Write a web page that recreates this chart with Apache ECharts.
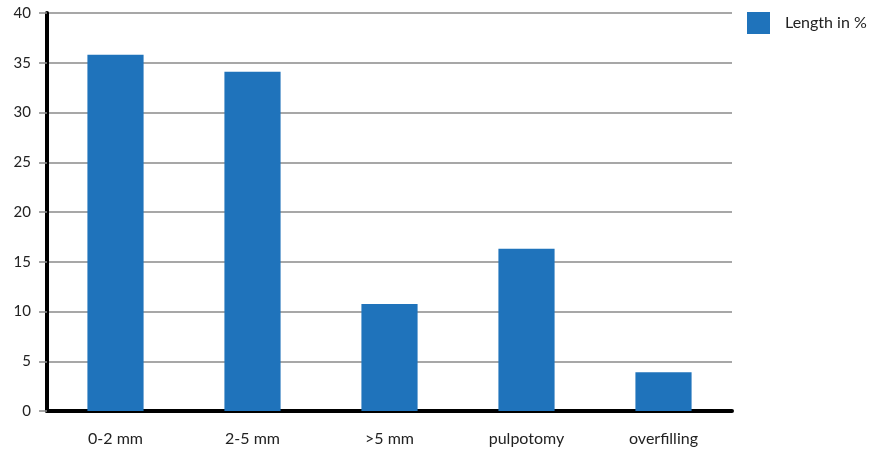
<!DOCTYPE html>
<html><head><meta charset="utf-8">
<script src="https://cdn.jsdelivr.net/npm/echarts@6/dist/echarts.min.js"></script>
<style>html,body{margin:0;padding:0;background:#fff}#c{width:876px;height:457px}</style>
</head><body><div id="c"></div>
<script>
const categories = ['0-2 mm', '2-5 mm', '>5 mm', 'pulpotomy', 'overfilling'];
const lengthValues = [35.8, 34.1, 10.75, 16.3, 3.9];
const seriesName = 'Length in %';
const yMin = 0, yMax = 40, yInterval = 5;

const chart = echarts.init(document.getElementById('c'));
const font = 'Lato, "DejaVu Sans", sans-serif';
chart.setOption({
  animation: false,
  grid: { left: 47, right: 144, top: 13, bottom: 46 },
  legend: {
    data: [seriesName], left: 747, top: 12, itemWidth: 23, itemHeight: 22, itemGap: 10,
    icon: 'rect', padding: 0,
    textStyle: { fontFamily: font, fontSize: 16, color: '#222', padding: [0,0,0,10] }
  },
  xAxis: {
    type: 'category', data: categories,
    axisLine: { lineStyle: { color: '#000', width: 4 } },
    axisTick: { show: false },
    axisLabel: { margin: 20, fontFamily: font, fontSize: 16, color: '#222' }
  },
  yAxis: {
    type: 'value', min: yMin, max: yMax, interval: yInterval,
    axisLine: { show: true, lineStyle: { color: '#000', width: 4 } },
    axisTick: { show: true, length: 8, lineStyle: { color: '#8a8a8a', width: 1.5 } },
    splitLine: { lineStyle: { color: '#8a8a8a', width: 1.5 } },
    axisLabel: { margin: 16, fontFamily: font, fontSize: 15, color: '#222' }
  },
  series: [{
    name: seriesName, type: 'bar', data: lengthValues, barWidth: '41%',
    itemStyle: { color: '#1f73bb' }
  }]
});
</script></body></html>
